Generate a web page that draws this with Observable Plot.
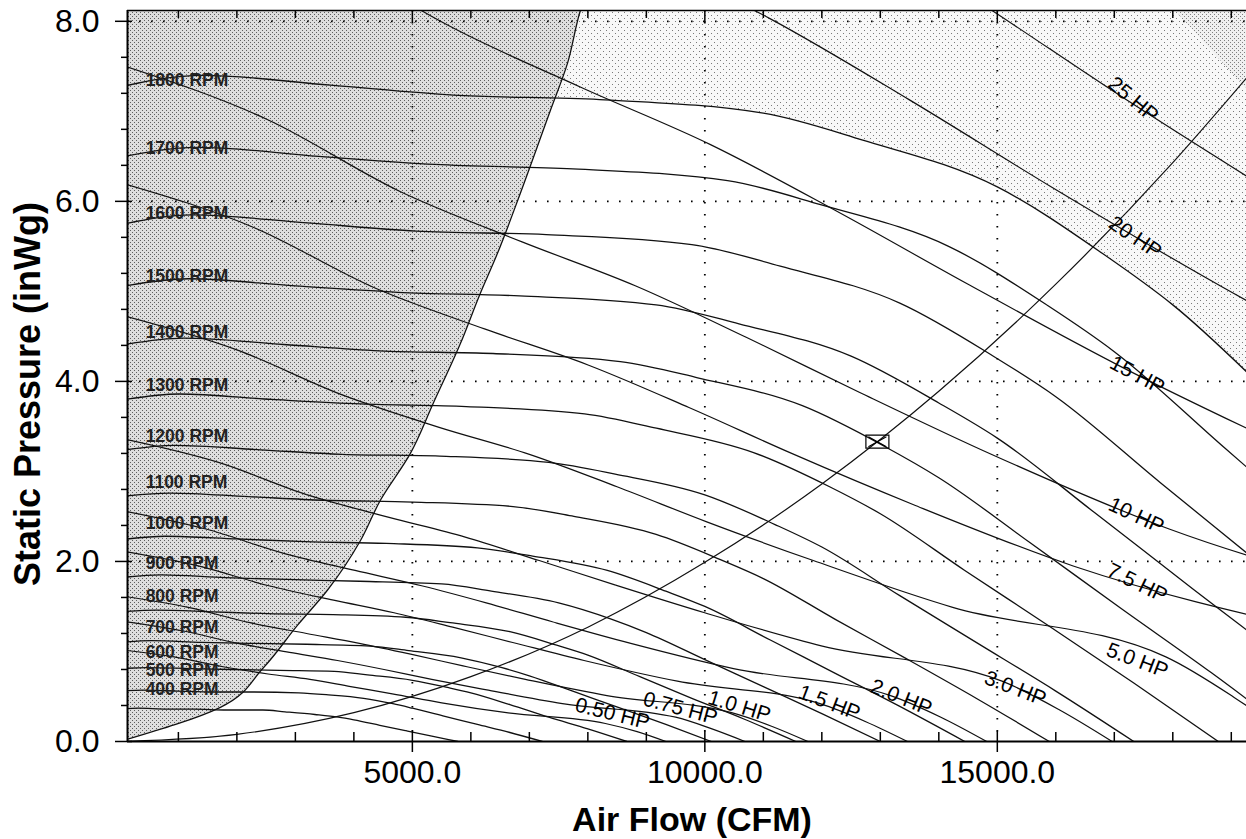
<!DOCTYPE html>
<html>
<head>
<meta charset="utf-8">
<script src="https://cdn.jsdelivr.net/npm/d3@7"></script>
<script src="https://cdn.jsdelivr.net/npm/@observablehq/plot@0.6"></script>
<style>
html, body { margin: 0; padding: 0; background: #fff; }
#chart svg { display: block; }
</style>
</head>
<body>
<div id="chart"></div>
<script>
// ---------------- data ----------------
// axis extents and ticks
const xDomain = [130, 19260];
const yDomain = [0, 8.12];
const xTicks = [5000, 10000, 15000];
const xMinorTicks = [1000, 2000, 3000, 4000, 6000, 7000, 8000, 9000, 11000, 12000, 13000, 14000, 16000, 17000, 18000, 19000];
const yTicks = [0, 2, 4, 6, 8];
const yMinorTicks = [0.4, 0.8, 1.2, 1.6, 2.4, 2.8, 3.2, 3.6, 4.4, 4.8, 5.2, 5.6, 6.4, 6.8, 7.2, 7.6];
const gridY = [2, 4, 6, 8];

// fan curves, [airflow CFM, static pressure inWg]
const rpm1800 = [[0,7.27],[1400,7.40],[3600,7.29],[5700,7.18],[8200,7.13],[11000,6.98],[12700,6.68],[15000,6.16],[16800,5.42],[18000,4.85],[20000,3.65],[22000,2.45],[24000,1.25],[26000,0]];
const rpm1700 = [[0,6.49],[1322,6.60],[3400,6.50],[5383,6.41],[7744,6.36],[10389,6.23],[11994,5.96],[14167,5.50],[15867,4.84],[17000,4.33],[18889,3.26],[20778,2.19],[22667,1.12],[24556,0]];
const rpm1600 = [[0,5.74],[1244,5.85],[3200,5.76],[5067,5.67],[7289,5.63],[9778,5.52],[11289,5.28],[13333,4.87],[14933,4.28],[16000,3.83],[17778,2.88],[19556,1.94],[21333,0.99],[23111,0]];
const rpm1500 = [[0,5.05],[1167,5.14],[3000,5.06],[4750,4.99],[6833,4.95],[9167,4.85],[10583,4.64],[12500,4.28],[14000,3.76],[15000,3.37],[16667,2.54],[18333,1.70],[20000,0.87],[21667,0]];
const rpm1400 = [[0,4.40],[1089,4.48],[2800,4.41],[4433,4.34],[6378,4.31],[8556,4.22],[9878,4.04],[11667,3.73],[13067,3.28],[14000,2.93],[15556,2.21],[17111,1.48],[18667,0.76],[20222,0]];
const rpm1300 = [[0,3.79],[1011,3.86],[2600,3.80],[4117,3.75],[5922,3.72],[7944,3.64],[9172,3.48],[10833,3.21],[12133,2.83],[13000,2.53],[14444,1.90],[15889,1.28],[17333,0.65],[18778,0]];
const rpm1200 = [[0,3.23],[933,3.29],[2400,3.24],[3800,3.19],[5467,3.17],[7333,3.10],[8467,2.97],[10000,2.74],[11200,2.41],[12000,2.16],[13333,1.62],[14667,1.09],[16000,0.56],[17333,0]];
const rpm1100 = [[0,2.72],[856,2.76],[2200,2.72],[3483,2.68],[5011,2.66],[6722,2.61],[7761,2.50],[9167,2.30],[10267,2.02],[11000,1.81],[12222,1.36],[13444,0.92],[14667,0.47],[15889,0]];
const rpm1000 = [[0,2.24],[778,2.28],[2000,2.25],[3167,2.22],[4556,2.20],[6111,2.15],[7056,2.06],[8333,1.90],[9333,1.67],[10000,1.50],[11111,1.13],[12222,0.76],[13333,0.39],[14444,0]];
const rpm900 = [[0,1.82],[700,1.85],[1800,1.82],[2850,1.80],[4100,1.78],[5500,1.75],[6350,1.67],[7500,1.54],[8400,1.36],[9000,1.21],[10000,0.91],[11000,0.61],[12000,0.31],[13000,0]];
const rpm800 = [[0,1.44],[622,1.46],[1600,1.44],[2533,1.42],[3644,1.41],[4889,1.38],[5644,1.32],[6667,1.22],[7467,1.07],[8000,0.96],[8889,0.72],[9778,0.48],[10667,0.25],[11556,0]];
const rpm700 = [[0,1.10],[544,1.12],[1400,1.10],[2217,1.09],[3189,1.08],[4278,1.06],[4939,1.01],[5833,0.93],[6533,0.82],[7000,0.73],[7778,0.55],[8556,0.37],[9333,0.19],[10111,0]];
const rpm600 = [[0,0.81],[467,0.82],[1200,0.81],[1900,0.80],[2733,0.79],[3667,0.78],[4233,0.74],[5000,0.68],[5600,0.60],[6000,0.54],[6667,0.41],[7333,0.27],[8000,0.14],[8667,0]];
const rpm500 = [[0,0.56],[389,0.57],[1000,0.56],[1583,0.55],[2278,0.55],[3056,0.54],[3528,0.52],[4167,0.48],[4667,0.42],[5000,0.37],[5556,0.28],[6111,0.19],[6667,0.10],[7222,0]];
const rpm400 = [[0,0.36],[311,0.37],[800,0.36],[1267,0.36],[1822,0.35],[2444,0.35],[2822,0.33],[3333,0.30],[3733,0.27],[4000,0.24],[4444,0.18],[4889,0.12],[5333,0.06],[5778,0]];

// brake horsepower lines
const hp25 = [[9331,10.22],[11971,9.32],[14532,8.28],[17155,7.15],[20269,5.87]];
const hp20 = [[6034,9.70],[8662,8.81],[11113,8.03],[13491,7.13],[15925,6.16],[18816,5.06],[22600,3.74]];
const hp15 = [[2883,9.06],[5482,8.00],[7870,7.27],[10097,6.63],[12257,5.89],[14469,5.09],[17096,4.17],[20534,3.09]];
const hp10 = [[0,7.52],[2519,6.91],[4789,6.11],[6875,5.55],[8820,5.06],[10707,4.49],[12640,3.88],[14934,3.18],[17938,2.36],[22529,1.50]];
const hp7_5 = [[0,6.21],[2288,5.71],[4351,5.04],[6246,4.58],[8014,4.18],[9728,3.71],[11484,3.20],[13569,2.63],[16297,1.95],[20469,1.23]];
const hp5 = [[0,4.74],[1999,4.35],[3801,3.85],[5457,3.49],[7001,3.19],[8499,2.83],[10033,2.44],[11854,2.01],[14237,1.49],[17881,0.94],[19049,0.49],[20113,0]];
const hp3 = [[0,3.37],[1686,3.10],[3206,2.74],[4602,2.49],[5904,2.27],[7168,2.01],[8461,1.74],[9997,1.43],[12008,1.06],[15081,0.67],[16066,0.35],[16963,0]];
const hp2 = [[0,2.57],[1473,2.36],[2801,2.09],[4020,1.90],[5158,1.73],[6262,1.54],[7392,1.33],[8734,1.09],[10490,0.81],[13175,0.51],[14035,0.27],[14819,0]];
const hp1_5 = [[0,2.12],[1338,1.95],[2545,1.73],[3653,1.57],[4686,1.43],[5689,1.27],[6716,1.10],[7935,0.90],[9531,0.67],[11970,0.42],[12752,0.22],[13464,0]];
const hp1 = [[0,1.62],[1169,1.49],[2223,1.32],[3191,1.20],[4094,1.09],[4970,0.97],[5867,0.84],[6932,0.69],[8326,0.51],[10457,0.32],[11140,0.17],[11762,0]];
const hp0_75 = [[0,1.34],[1062,1.23],[2020,1.09],[2899,0.99],[3720,0.90],[4516,0.80],[5331,0.69],[6298,0.57],[7565,0.42],[9501,0.27],[10122,0.14],[10687,0]];
const hp0_5 = [[0,1.02],[928,0.94],[1764,0.83],[2533,0.75],[3249,0.69],[3945,0.61],[4657,0.53],[5502,0.43],[6608,0.32],[8300,0.20],[8842,0.11],[9335,0]];

// surge limit, system curve, operating point, max-limit corner
const surgeLine = [[0,0],[1718,0.38],[2453,0.82],[3034,1.29],[3547,1.68],[4111,2.23],[4453,2.68],[4966,3.20],[5359,3.76],[5821,4.42],[6162,4.98],[6453,5.42],[6846,6.09],[7359,7.01],[7650,7.53],[7872,8.12],[8020,8.40]];
const systemCurve = [[0,0],[2000,0.08],[4000,0.32],[6000,0.72],[8000,1.27],[10000,1.99],[12000,2.86],[14000,3.89],[16000,5.08],[18000,6.43],[19300,7.40]];
const opPoint = [[12950, 3.33]];
const cornerEdge = [[17650,8.40],[19300,7.22]];

// labels
const rpmLabelText = ["1800 RPM","1700 RPM","1600 RPM","1500 RPM","1400 RPM","1300 RPM","1200 RPM","1100 RPM","1000 RPM","900 RPM","800 RPM","700 RPM","600 RPM","500 RPM","400 RPM"];
const rpmLabelP = [7.34, 6.59, 5.87, 5.17, 4.54, 3.96, 3.39, 2.88, 2.42, 1.98, 1.61, 1.27, 0.99, 0.79, 0.58];
const rpmLabelQ = 440;
const hpLabelText = ["25 HP","20 HP","15 HP","10 HP","7.5 HP","5.0 HP","3.0 HP","2.0 HP","1.5 HP","1.0 HP","0.75 HP","0.50 HP"];
const hpLabelQ = [17325, 17359, 17393, 17376, 17393, 17393, 15308, 13359, 12128, 10590, 9581, 8419];
const hpLabelP = [7.13, 5.60, 4.07, 2.51, 1.76, 0.90, 0.59, 0.49, 0.43, 0.39, 0.37, 0.31];
const hpLabelAngle = [40, 34, 28, 25, 26, 21, 21, 22, 21, 17, 15, 14];

// ---------------- build ----------------
const rows = (pairs, id) => pairs.map(([q, p]) => ({q, p, id}));
const rpmSeries = [rpm1800, rpm1700, rpm1600, rpm1500, rpm1400, rpm1300, rpm1200, rpm1100, rpm1000, rpm900, rpm800, rpm700, rpm600, rpm500, rpm400];
const hpSeries = [hp25, hp20, hp15, hp10, hp7_5, hp5, hp3, hp2, hp1_5, hp1, hp0_75, hp0_5];
const rpmRows = rpmSeries.flatMap((s, i) => rows(s, "r" + i));
const hpRows = hpSeries.flatMap((s, i) => rows(s, "h" + i));
const rpmLabels = rpmLabelText.map((t, i) => ({t, p: rpmLabelP[i]}));
const hpLabels = hpLabelText.map((t, i) => ({t, q: hpLabelQ[i], p: hpLabelP[i], a: hpLabelAngle[i]}));

const opBox = {
  draw(ctx) {
    ctx.moveTo(-11.5, -6.5); ctx.lineTo(11.5, -6.5); ctx.lineTo(11.5, 6.5); ctx.lineTo(-11.5, 6.5); ctx.closePath();
    ctx.moveTo(-9, -5); ctx.lineTo(9, 5);
    ctx.moveTo(9, -5); ctx.lineTo(-9, 5);
  }
};

const ink = "#111";
const font = "'Liberation Sans', Arial, Helvetica, sans-serif";
const dotted = {stroke: "#000", strokeWidth: 1.8, strokeDasharray: "1.6,10.4"};

const chart = Plot.plot({
  width: 1246,
  height: 839,
  marginLeft: 127,
  marginRight: 0,
  marginTop: 10,
  marginBottom: 98,
  x: {domain: xDomain, axis: null},
  y: {domain: yDomain, axis: null},
  style: {fontFamily: font, background: "#fff", color: "#000", overflow: "visible"},
  marks: [
    Plot.areaY(rows(rpm1800, "top"), {x: "q", y1: "p", y2: 9, fill: "url(#stippleLight)", curve: "monotone-x", clip: true}),
    Plot.areaY(rows(cornerEdge, "corner"), {x: "q", y1: "p", y2: 9, fill: "url(#stippleMid)", clip: true}),
    Plot.areaX(rows(surgeLine, "surge"), {x: "q", y: "p", fill: "url(#stippleDense)", curve: "monotone-y", clip: true}),
    Plot.ruleX(xTicks, {...dotted}),
    Plot.ruleY(gridY, {...dotted}),
    Plot.line(rpmRows, {x: "q", y: "p", z: "id", curve: "monotone-x", stroke: ink, strokeWidth: 1.3, clip: true}),
    Plot.line(hpRows, {x: "q", y: "p", z: "id", curve: "monotone-x", stroke: ink, strokeWidth: 1.2, clip: true}),
    Plot.line(rows(surgeLine, "surge"), {x: "q", y: "p", curve: "monotone-y", stroke: ink, strokeWidth: 1.3, clip: true}),
    Plot.line(rows(systemCurve, "sys"), {x: "q", y: "p", curve: "monotone-x", stroke: ink, strokeWidth: 1.2, clip: true}),
    Plot.dot(rows(opPoint, "op"), {x: "q", y: "p", symbol: opBox, stroke: "#000", fill: "none", strokeWidth: 1.2}),
    Plot.text(rpmLabels, {x: rpmLabelQ, y: "p", text: "t", textAnchor: "start", fontSize: 17.5, fontWeight: "bold", fill: "#222"}),
    Plot.text(hpLabels, {x: "q", y: "p", text: "t", rotate: "a", textAnchor: "middle", fontSize: 21, fill: "#000"}),
    // axis lines
    Plot.ruleY([yDomain[0]], {stroke: "#000", strokeWidth: 2}),
    Plot.ruleY([yDomain[1]], {stroke: "#000", strokeWidth: 1.5}),
    Plot.ruleX([xDomain[0]], {stroke: "#000", strokeWidth: 2}),
    // bottom axis
    Plot.axisX(xMinorTicks, {anchor: "bottom", tickSize: -9, tickFormat: () => "", label: null, strokeWidth: 1.5}),
    Plot.axisX(xTicks, {anchor: "bottom", tickSize: -10, tickFormat: () => "", label: null, strokeWidth: 1.5}),
    Plot.axisX(xTicks, {anchor: "bottom", tickSize: 11, tickPadding: 8, tickFormat: d => d.toFixed(1), fontSize: 32, label: null, strokeWidth: 1.5}),
    // top axis
    Plot.axisX(xMinorTicks, {anchor: "top", tickSize: -7, tickFormat: () => "", label: null, strokeWidth: 1.5}),
    Plot.axisX(xTicks, {anchor: "top", tickSize: -11, tickFormat: () => "", label: null, strokeWidth: 1.5}),
    // left axis
    Plot.axisY(yMinorTicks, {anchor: "left", tickSize: 6, tickFormat: () => "", label: null, strokeWidth: 1.5}),
    Plot.axisY(yTicks, {anchor: "left", tickSize: -5, tickFormat: () => "", label: null, strokeWidth: 1.5}),
    Plot.axisY(yTicks, {anchor: "left", tickSize: 12, tickPadding: 16, tickFormat: d => d.toFixed(1), fontSize: 32, label: null, strokeWidth: 1.5}),
    // axis titles
    Plot.text(["Air Flow (CFM)"], {frameAnchor: "bottom", text: d => d, dx: 5, dy: 79, textAnchor: "middle", lineAnchor: "middle", fontSize: 34, fontWeight: "bold", fill: "#000"}),
    Plot.text(["Static Pressure (inWg)"], {frameAnchor: "left", text: d => d, dx: -99, dy: 18, rotate: -90, textAnchor: "middle", lineAnchor: "middle", fontSize: 36, fontWeight: "bold", fill: "#000"})
  ]
});

const defs = d3.select(chart).insert("defs", ":first-child");
defs.html(`
  <pattern id="stippleDense" width="4" height="4" patternUnits="userSpaceOnUse">
    <rect width="4" height="4" fill="#dedede"/>
    <rect x="0" y="0" width="1" height="1" fill="#5e5e5e"/>
    <rect x="2" y="2" width="1" height="1" fill="#5e5e5e"/>
  </pattern>
  <pattern id="stippleMid" width="4" height="4" patternUnits="userSpaceOnUse">
    <rect width="4" height="4" fill="#f0f0f0"/>
    <rect x="0" y="0" width="1" height="1" fill="#808080"/>
    <rect x="2" y="2" width="1" height="1" fill="#808080"/>
  </pattern>
  <pattern id="stippleLight" width="6" height="6" patternUnits="userSpaceOnUse">
    <rect width="6" height="6" fill="#f8f8f8"/>
    <rect x="0" y="0" width="1" height="1" fill="#7a7a7a"/>
    <rect x="3" y="3" width="1" height="1" fill="#7a7a7a"/>
  </pattern>
`);

document.getElementById("chart").appendChild(chart);
</script>
</body>
</html>
